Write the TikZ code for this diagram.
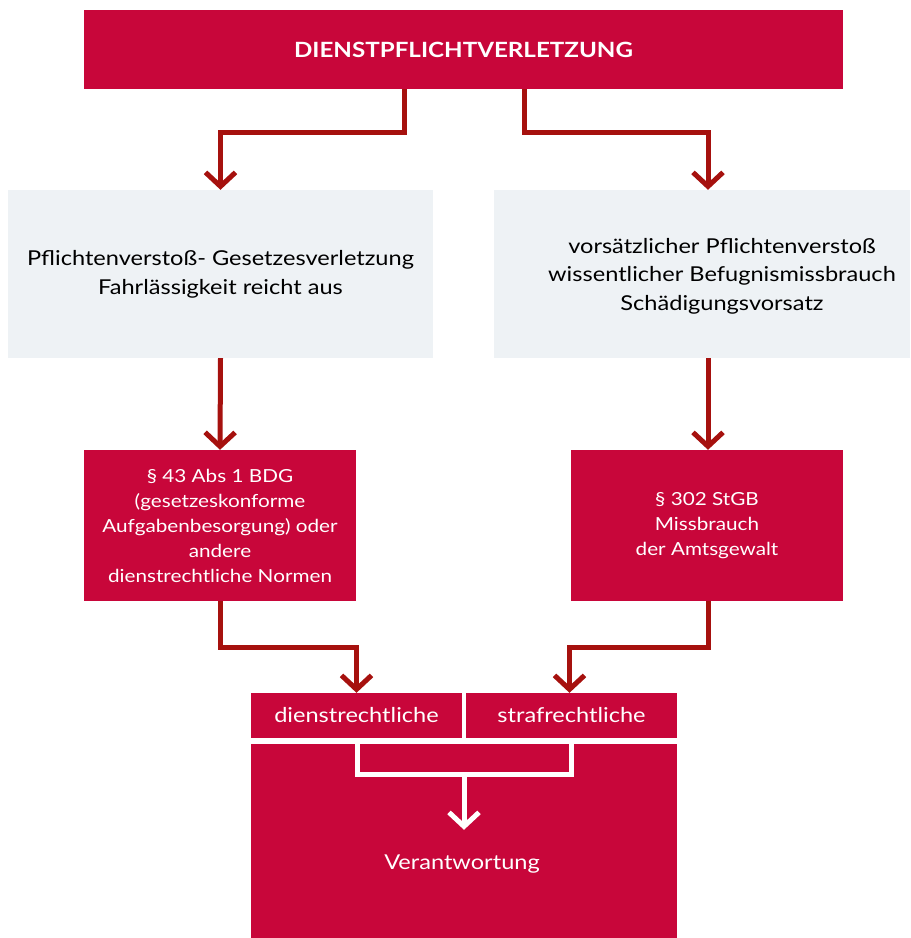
\documentclass[tikz,border=0pt]{standalone}
\usepackage{fontspec}
\setmainfont{Lato}[FakeStretch=1.15]
\usetikzlibrary{arrows.meta,positioning,calc}
\definecolor{mainred}{RGB}{200,6,58}
\definecolor{lightgray}{RGB}{238,242,245}
\definecolor{darkred}{RGB}{166,17,14}
\tikzset{
  redbox/.style={fill=mainred, draw=none, text=white, align=center, inner sep=0pt},
  graybox/.style={fill=lightgray, draw=none, text=black, align=center, inner sep=0pt},
  conn/.style={draw=darkred, line width=5pt, -{Straight Barb[length=14pt,width=30pt,line width=5pt]}},
  whiteconn/.style={draw=white, line width=5pt},
}
\begin{document}
\begin{tikzpicture}[x=1pt,y=-1pt]
\useasboundingbox (0,0) rectangle (911,938);
% top
\node[redbox, minimum width=759pt, minimum height=79pt, font=\fontsize{21}{25}\selectfont\bfseries] (top) at (463.5,49.5) {DIENSTPFLICHTVERLETZUNG};
% gray boxes
\node[graybox, minimum width=425pt, minimum height=168pt, font=\fontsize{20.5}{29}\selectfont] (g1) at (220.5,274) {Pflichtenverstoß- Gesetzesverletzung\\Fahrlässigkeit reicht aus};
\node[graybox, minimum width=416pt, minimum height=168pt] (g2) at (702,274) {};
\node[align=center, inner sep=0pt, font=\fontsize{20.5}{28.5}\selectfont] (g2t) at (722,276) {vorsätzlicher Pflichtenverstoß\\wissentlicher Befugnismissbrauch\\Schädigungsvorsatz};
% red boxes
\node[redbox, minimum width=272pt, minimum height=151pt, font=\fontsize{18}{25}\selectfont] (r1) at (220,525.5) {§ 43 Abs 1 BDG\\(gesetzeskonforme\\Aufgabenbesorgung) oder\\andere\\dienstrechtliche Normen};
\node[redbox, minimum width=272pt, minimum height=151pt, font=\fontsize{18}{25}\selectfont] (r2) at (707,525.5) {§ 302 StGB\\Missbrauch\\der Amtsgewalt};
% bottom
\node[redbox, minimum width=211pt, minimum height=45pt, font=\fontsize{20.5}{24}\selectfont] (d1) at (356.5,715.5) {dienstrechtliche};
\node[redbox, minimum width=211pt, minimum height=45pt, font=\fontsize{20.5}{24}\selectfont] (s1) at (571.5,715.5) {strafrechtliche};
\node[redbox, minimum width=426pt, minimum height=194pt] (v) at (464,841) {};
\node[text=white, font=\fontsize{20.5}{24}\selectfont, inner sep=0pt] (vt) at (462,864) {Verantwortung};
% connectors
\draw[conn] ([xshift=-59.5pt]top.south) -- ++(0,43) -| (g1.north);
\draw[conn] ([xshift=60.5pt]top.south) -- ++(0,43) -| ([xshift=6pt]g2.north);
\draw[conn] (g1.south) -- (r1.north);
\draw[conn] ([xshift=6pt]g2.south) -- ([xshift=1pt]r2.north);
\draw[conn] (r1.south) -- ++(0,46) -| (d1.north);
\draw[conn] ([xshift=1pt]r2.south) -- ++(0,46) -| ([xshift=-2pt]s1.north);
% white bracket inside
\coordinate (bl) at ([xshift=-107pt]v.north);
\coordinate (br) at ([xshift=107pt]v.north);
\draw[whiteconn] (bl) -- ++(0,31) coordinate (blb) -| (br);
\draw[whiteconn, -{Straight Barb[length=14pt,width=30pt,line width=5pt]}] (blb -| v.north) -- ++(0,55) coordinate (vtip);
\end{tikzpicture}
\end{document}
